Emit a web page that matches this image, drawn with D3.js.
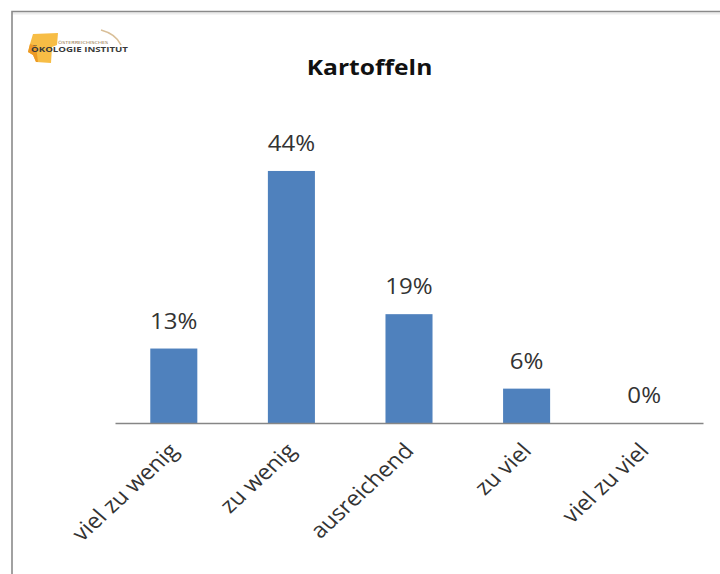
<!DOCTYPE html>
<html>
<head>
<meta charset="utf-8">
<script src="https://cdn.jsdelivr.net/npm/d3@7/dist/d3.min.js"></script>
<style>
  html, body { margin: 0; padding: 0; background: #fff; }
  svg { display: block; }
</style>
</head>
<body>
<svg id="chart" width="720" height="574"></svg>
<script>
// Survey answers for potatoes (share of respondents)
const categories = ["viel zu wenig", "zu wenig", "ausreichend", "zu viel", "viel zu viel"];
const shares = [0.13, 0.44, 0.19, 0.06, 0.00];
const chartTitle = "Kartoffeln";

const W = 720, H = 574;
const svg = d3.select("#chart");
const font = "'Open Sans', 'Noto Sans', sans-serif";
const stretchX = 1.12;          // glyphs are drawn slightly wide
const textColor = "#333333";

svg.append("rect").attr("width", W).attr("height", H).attr("fill", "#fff");

// outer frame (top and left edges visible)
svg.append("path")
  .attr("d", "M12,13.5 H720")
  .attr("stroke", "#ececec").attr("stroke-width", 2).attr("fill", "none");
svg.append("path")
  .attr("d", `M12,${H} V11.5 H${W}`)
  .attr("stroke", "#8a8a8a").attr("stroke-width", 1.6).attr("fill", "none");

// logo
const logo = svg.append("g").attr("class", "logo");
logo.append("path")
  .attr("d", "M33,34 L58,33 L57,45 L52,47 L51,63 L36,62 L33,55 L28,52 L30,44 Z")
  .attr("fill", "#f7bd45");
logo.append("path")
  .attr("d", "M28,52 L30,44 L36,46 L38,62 L36,62 L33,55 Z")
  .attr("fill", "#ec9a25");
logo.append("path")
  .attr("d", "M101,30 Q116,34 121,45")
  .attr("stroke", "#d9bf98").attr("stroke-width", 1.6).attr("fill", "none");
logo.append("text")
  .attr("x", 58).attr("y", 43.5)
  .attr("font-family", font).attr("font-size", 4.2)
  .attr("fill", "#8a6a3a")
  .attr("textLength", 50).attr("lengthAdjust", "spacingAndGlyphs")
  .text("ÖSTERREICHISCHES");
logo.append("text")
  .attr("x", 31).attr("y", 52)
  .attr("font-family", font).attr("font-size", 7.6).attr("font-weight", 700)
  .attr("fill", "#3a3a3a")
  .attr("textLength", 97).attr("lengthAdjust", "spacingAndGlyphs")
  .text("ÖKOLOGIE INSTITUT");

// title
svg.append("g")
  .attr("transform", `translate(369.5,75) scale(${stretchX},1)`)
  .append("text")
  .attr("text-anchor", "middle")
  .attr("font-family", font).attr("font-size", 22).attr("font-weight", 700)
  .attr("fill", "#111")
  .text(chartTitle);

// scales
const x = d3.scaleBand()
  .domain(categories)
  .range([115, 703])
  .paddingInner(0.6)
  .paddingOuter(0.3);

const y = d3.scaleLinear()
  .domain([0, 0.5])
  .range([423, 136.6]);

const data = categories.map((c, i) => ({ cat: c, v: shares[i] }));

// bars
svg.append("g").selectAll("rect")
  .data(data)
  .join("rect")
  .attr("x", d => x(d.cat))
  .attr("y", d => y(d.v))
  .attr("width", x.bandwidth())
  .attr("height", d => y(0) - y(d.v))
  .attr("fill", "#4f81bd");

// category axis
const axis = svg.append("g")
  .attr("transform", `translate(0,${y(0)})`)
  .call(d3.axisBottom(x).tickSize(0).tickSizeOuter(0).tickFormat(""));
axis.select(".domain").attr("stroke", "#868686").attr("stroke-width", 1.5);

// category labels, rotated
svg.append("g").selectAll("g")
  .data(data)
  .join("g")
  .attr("transform", d =>
    `translate(${x(d.cat) + x.bandwidth() / 2 + 6},${y(0) + 29}) scale(${stretchX},1) rotate(-46)`)
  .append("text")
  .attr("text-anchor", "end")
  .attr("font-family", font).attr("font-size", 21.2)
  .attr("fill", textColor)
  .text(d => d.cat);

// value labels
const pct = d3.format(".0%");
svg.append("g").selectAll("g")
  .data(data)
  .join("g")
  .attr("transform", d =>
    `translate(${x(d.cat) + x.bandwidth() / 2},${y(d.v) - 20}) scale(${stretchX},1)`)
  .append("text")
  .attr("text-anchor", "middle")
  .attr("font-family", font).attr("font-size", 21.5)
  .attr("fill", textColor)
  .text(d => pct(d.v));
</script>
</body>
</html>
